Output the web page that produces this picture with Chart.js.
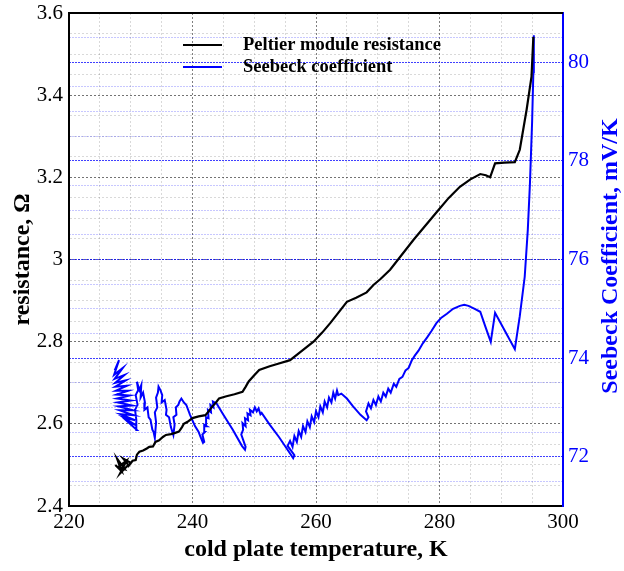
<!DOCTYPE html>
<html>
<head>
<meta charset="utf-8">
<script src="https://cdn.jsdelivr.net/npm/chart.js@4.4.1/dist/chart.umd.min.js"></script>
<style>
    html, body { margin: 0; padding: 0; background: #fff; }
</style>
</head>
<body>
<canvas id="chartPeltier" width="624" height="571"></canvas>
<script>
// Peltier module resistance (left axis)
const resistanceTemp = [
    227.5, 228.5, 227.8, 229.0, 228.0, 229.3, 228.3, 229.6, 228.8, 230.0,
    229.5, 230.3, 230.8, 231.0, 231.4, 232.0, 232.6, 233.0,
    233.6, 234.0, 234.6, 235.2, 235.7, 236.5, 237.2, 237.8, 238.3, 238.6,
    239.2, 240.0, 241.0, 242.1, 242.7, 243.2, 243.8, 244.3, 245.5, 246.8,
    248.1, 248.6, 249.1, 250.0, 250.8, 252.5, 254.0, 255.8, 257.5, 259.6,
    261.0, 262.3, 263.7, 265.0, 266.5, 268.2, 269.3, 270.4, 272.0, 275.8,
    279.8, 281.5, 283.3, 285.0, 286.6, 287.5, 288.2, 289.0, 290.5, 292.2,
    293.0, 294.1, 294.9, 295.2
];
const resistanceValues = [
    2.500, 2.485, 2.515, 2.490, 2.495, 2.510, 2.480, 2.500, 2.515, 2.505,
    2.495, 2.510, 2.512, 2.525, 2.532, 2.535, 2.540, 2.544,
    2.545, 2.556, 2.560, 2.568, 2.573, 2.575, 2.578, 2.581, 2.592, 2.600,
    2.605, 2.614, 2.618, 2.621, 2.632, 2.642, 2.652, 2.662, 2.667, 2.672,
    2.678, 2.690, 2.703, 2.718, 2.731, 2.740, 2.747, 2.755, 2.775, 2.800,
    2.822, 2.845, 2.872, 2.897, 2.907, 2.920, 2.938, 2.952, 2.975, 3.048,
    3.120, 3.150, 3.177, 3.195, 3.208, 3.205, 3.200, 3.234, 3.236, 3.237,
    3.267, 3.364, 3.445, 3.542
];

// Seebeck coefficient (right axis)
const seebeckTemp = [
    227.4, 228.1, 227.3, 228.7, 227.4, 229.0, 227.5, 229.2, 227.5, 229.4,
    227.6, 229.6, 227.7, 229.8, 227.8, 230.0, 227.9, 230.2, 228.0, 230.4,
    228.2, 230.5, 228.4, 230.7, 228.8, 230.8, 229.4, 231.0,
    230.9, 230.7, 231.1, 230.8, 231.2, 231.0,
    231.4, 231.7, 231.6, 232.0, 232.3, 232.2, 232.7, 232.9, 233.2, 233.5, 233.7, 233.9,
    234.1, 233.9, 234.3, 234.1, 234.4, 234.5,
    234.8, 235.1, 235.0, 235.5, 235.8, 235.7, 236.2, 236.5, 236.9,
    237.1, 236.9, 237.4, 237.3, 237.7, 237.9, 238.2,
    238.6, 239.0, 239.6, 240.4, 241.0, 241.3, 241.7, 241.9, 241.6,
    242.0, 241.9, 242.3, 242.2, 242.6, 242.5, 243.0, 242.9, 243.4, 243.3, 243.9,
    245.0, 246.5, 248.0, 248.5, 248.6, 247.9,
    248.2, 248.1, 248.6, 248.5, 249.0, 248.9, 249.4, 249.3, 249.8, 250.1, 250.4, 250.7, 251.0, 251.2,
    252.5, 254.0, 255.5, 256.3, 256.5, 255.4,
    255.8, 256.2, 256.5, 256.9, 257.2, 257.6, 257.9, 258.3, 258.6, 259.0,
    259.3, 259.7, 260.0, 260.4, 260.7, 261.1, 261.4, 261.8, 262.1, 262.5,
    262.8, 263.1, 263.4, 263.6, 264.1,
    265.0, 266.0, 267.2, 268.2, 268.5, 268.1,
    268.5, 268.9, 269.3, 269.7, 270.1, 270.5, 270.9, 271.3, 271.7, 272.1,
    272.6, 273.0, 273.5, 274.0, 274.5, 275.0, 275.5, 276.0, 276.6, 277.3,
    278.0, 278.7, 279.5, 280.3, 281.2, 282.2, 283.3, 284.0, 284.7, 285.7,
    286.6, 287.4, 288.3, 289.0, 290.6, 292.2, 293.0, 293.8, 294.3, 294.65,
    295.0, 295.2, 295.3, 295.25
];
const seebeckValues = [
    73.75, 73.96, 73.66, 73.80, 73.58, 73.66, 73.50, 73.55, 73.42, 73.44,
    73.34, 73.34, 73.26, 73.24, 73.18, 73.14, 73.10, 73.04, 73.02, 72.94,
    72.94, 72.84, 72.86, 72.74, 72.80, 72.64, 72.72, 72.54,
    72.75, 72.95, 73.05, 73.25, 73.35, 73.52,
    73.35, 73.45, 73.20, 73.30, 73.10, 72.95, 73.00, 72.80, 72.75, 72.55, 72.50, 72.38,
    72.70, 72.90, 73.00, 73.20, 73.30, 73.42,
    73.35, 73.25, 73.10, 73.15, 72.95, 72.85, 72.80, 72.60, 72.44,
    72.65, 72.80, 72.85, 73.00, 73.05, 73.12, 73.18,
    73.10, 73.05, 72.85, 72.62, 72.50, 72.40, 72.28, 72.30, 72.45,
    72.50, 72.65, 72.62, 72.80, 72.78, 72.95, 72.90, 73.05, 73.00, 73.12, 73.08,
    72.85, 72.55, 72.22, 72.14, 72.20, 72.45,
    72.55, 72.68, 72.62, 72.78, 72.74, 72.88, 72.84, 72.95, 72.90, 73.00, 72.92, 72.98, 72.86, 72.89,
    72.65, 72.40, 72.12, 71.97, 72.03, 72.22,
    72.32, 72.20, 72.42, 72.30, 72.52, 72.40, 72.62, 72.50, 72.72, 72.60,
    72.82, 72.70, 72.92, 72.80, 73.02, 72.90, 73.12, 73.00, 73.20, 73.10,
    73.30, 73.18, 73.34, 73.25, 73.28,
    73.18, 73.02, 72.85, 72.74, 72.80, 72.92,
    73.08, 72.98, 73.15, 73.05, 73.22, 73.12, 73.30, 73.22, 73.38, 73.30,
    73.48, 73.42, 73.58, 73.62, 73.75, 73.80, 73.95, 74.05, 74.15, 74.30,
    74.42, 74.55, 74.71, 74.82, 74.90, 75.00, 75.06, 75.08, 75.06, 75.00,
    74.94, 74.65, 74.33, 74.92, 74.55, 74.18, 74.85, 75.65, 76.60, 77.55,
    78.80, 79.80, 80.55, 80.20
];

const legendLabels = ['Peltier module resistance', 'Seebeck coefficient'];
const rightAxisTitle = 'Seebeck Coefficient, mV/K';

const serif = "'Liberation Serif', 'Times New Roman', serif";

function toPoints(xs, ys) {
    return xs.map((x, i) => ({ x: x, y: ys[i] }));
}

// no extra padding from the first/last tick labels
function fixVertical(width) {
    return function(scale) {
        scale.width = width;
        scale.paddingTop = 0;
        scale.paddingBottom = 0;
    };
}

// top frame line, legend inside the plot, right title read bottom-to-top
const framePlugin = {
    id: 'frameLegend',
    afterDraw(chart) {
        const { ctx, chartArea } = chart;
        ctx.save();
        ctx.strokeStyle = '#000';
        ctx.lineWidth = 2;
        ctx.beginPath();
        ctx.moveTo(chartArea.left, chartArea.top);
        ctx.lineTo(chartArea.right, chartArea.top);
        ctx.stroke();

        const colors = ['#000000', '#0000ff'];
        const rows = [45, 67];
        ctx.font = 'bold 18.5px ' + serif;
        ctx.textBaseline = 'middle';
        ctx.fillStyle = '#000';
        legendLabels.forEach((label, i) => {
            ctx.strokeStyle = colors[i];
            ctx.lineWidth = 2;
            ctx.beginPath();
            ctx.moveTo(183, rows[i]);
            ctx.lineTo(222, rows[i]);
            ctx.stroke();
            ctx.fillText(label, 243, rows[i]);
        });

        ctx.translate(611, 256);
        ctx.rotate(-Math.PI / 2);
        ctx.textAlign = 'center';
        ctx.fillStyle = '#0000ff';
        ctx.font = 'bold 24px ' + serif;
        ctx.fillText(rightAxisTitle, 0, 0);
        ctx.restore();
    }
};

const ctx = document.getElementById('chartPeltier');

new Chart(ctx, {
    type: 'scatter',
    data: {
        datasets: [
            {
                label: legendLabels[0],
                data: toPoints(resistanceTemp, resistanceValues),
                showLine: true,
                borderColor: '#000000',
                backgroundColor: '#000000',
                borderWidth: 2.2,
                pointRadius: 0,
                tension: 0,
                yAxisID: 'y'
            },
            {
                label: legendLabels[1],
                data: toPoints(seebeckTemp, seebeckValues),
                showLine: true,
                borderColor: '#0000ff',
                backgroundColor: '#0000ff',
                borderWidth: 2,
                pointRadius: 0,
                tension: 0,
                yAxisID: 'y1'
            }
        ]
    },
    options: {
        responsive: false,
        animation: false,
        layout: { padding: { top: 13, left: 0, right: 0, bottom: 0 } },
        plugins: {
            legend: { display: false },
            tooltip: { enabled: false }
        },
        scales: {
            x: {
                type: 'linear',
                min: 220,
                max: 300,
                afterFit(scale) { scale.height = 65; },
                ticks: {
                    stepSize: 5,
                    autoSkip: false,
                    maxRotation: 0,
                    color: '#000',
                    padding: 4,
                    font: { family: serif, size: 21 },
                    callback: function(value) {
                        return value % 20 === 0 ? String(value) : '';
                    }
                },
                grid: {
                    drawTicks: false,
                    color: function(c) {
                        return c.tick && c.tick.value % 20 === 0 ? 'rgba(0,0,0,0.5)' : 'rgba(0,0,0,0.15)';
                    },
                    lineWidth: 1
                },
                border: { color: '#000', width: 2, dash: [2, 2] },
                title: {
                    display: true,
                    text: 'cold plate temperature, K',
                    color: '#000',
                    font: { family: serif, size: 24, weight: 'bold' },
                    padding: { top: 4, bottom: 7 }
                }
            },
            y: {
                type: 'linear',
                position: 'left',
                min: 2.4,
                max: 3.6,
                afterFit: fixVertical(69),
                ticks: {
                    stepSize: 0.05,
                    autoSkip: false,
                    color: '#000',
                    padding: 6,
                    font: { family: serif, size: 21 },
                    callback: function(value) {
                        const v = Math.round(value * 100);
                        return v % 20 === 0 ? String(v / 100) : '';
                    }
                },
                grid: {
                    drawTicks: false,
                    color: function(c) {
                        if (!c.tick) return 'rgba(0,0,0,0.15)';
                        return Math.round(c.tick.value * 100) % 20 === 0 ? 'rgba(0,0,0,0.55)' : 'rgba(0,0,0,0.15)';
                    },
                    lineWidth: 1
                },
                border: { color: '#000', width: 2, dash: [2, 2] },
                title: {
                    display: true,
                    text: 'resistance, Ω',
                    color: '#000',
                    font: { family: serif, size: 24, weight: 'bold' },
                    padding: { top: 8, bottom: 0 }
                }
            },
            y1: {
                type: 'linear',
                position: 'right',
                min: 71,
                max: 81,
                afterFit: fixVertical(61),
                ticks: {
                    stepSize: 0.5,
                    autoSkip: false,
                    color: '#0000ff',
                    padding: 5,
                    font: { family: serif, size: 21 },
                    callback: function(value) {
                        return value % 2 === 0 ? String(value) : '';
                    }
                },
                grid: {
                    drawTicks: false,
                    color: function(c) {
                        if (!c.tick) return 'rgba(0,0,255,0.22)';
                        return c.tick.value % 2 === 0 ? 'rgba(0,0,255,0.75)' : 'rgba(0,0,255,0.22)';
                    },
                    lineWidth: 1
                },
                border: { color: '#0000ff', width: 2, dash: [2, 1] },
                title: { display: false }
            }
        }
    },
    plugins: [framePlugin]
});
</script>
</body>
</html>
